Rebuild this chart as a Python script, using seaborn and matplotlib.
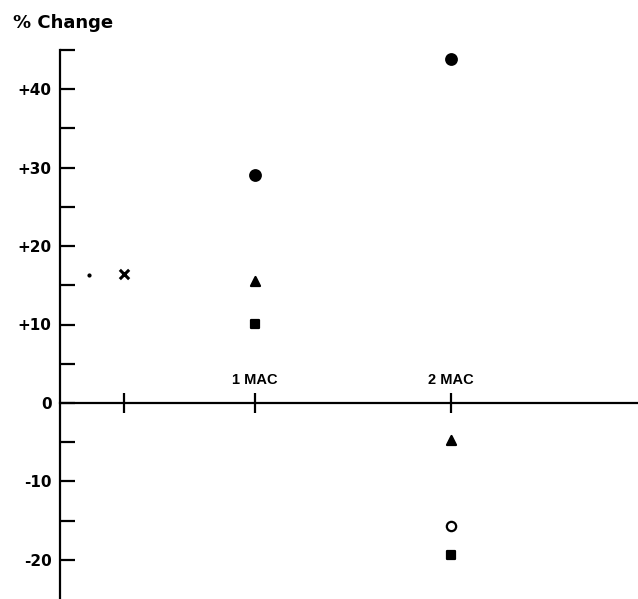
import numpy as np
import pandas as pd
import matplotlib
matplotlib.use('Agg')
import matplotlib.pyplot as plt
import seaborn as sns

# dose positions (in MAC) and % change values
dose_x = [0.33]
change_x = [16.5]

dose_dot = [0.15]
change_dot = [16.3]

dose_filled_circle = [1, 2]
change_filled_circle = [29.0, 43.9]

dose_triangle = [1, 2]
change_triangle = [15.6, -4.7]

dose_square = [1, 2]
change_square = [10.1, -19.4]

dose_open_circle = [2]
change_open_circle = [-15.7]

x_ticks = [0.33, 1, 2]
x_labels = ['', '1 MAC', '2 MAC']
y_major = [-20, -10, 0, 10, 20, 30, 40]
y_labels = ['-20', '-10', '0', '+10', '+20', '+30', '+40']
y_minor = [-15, -5, 5, 15, 25, 35, 45]

sns.set_style('white')
plt.rcParams['font.family'] = ['DejaVu Sans']
plt.rcParams['font.weight'] = 'bold'
plt.rcParams['text.color'] = 'black'
plt.rcParams['xtick.color'] = 'black'
plt.rcParams['ytick.color'] = 'black'
plt.rcParams['axes.labelcolor'] = 'black'

fig = plt.figure(figsize=(6.38, 5.99), dpi=100)
ax = fig.add_axes([60 / 638, 0, 1 - 60 / 638, (599 - 50) / 599])

groups = [
    (dose_x, change_x, 'x', 45, 'black', 'black'),
    (dose_dot, change_dot, 'o', 2, 'black', 'black'),
    (dose_filled_circle, change_filled_circle, 'o', 58, 'black', 'black'),
    (dose_triangle, change_triangle, '^', 42, 'black', 'black'),
    (dose_square, change_square, 's', 34, 'black', 'black'),
    (dose_open_circle, change_open_circle, 'o', 45, 'white', 'black'),
]
for xs, ys, mk, sz, fc, ec in groups:
    df = pd.DataFrame({'dose': xs, 'change': ys})
    sns.scatterplot(data=df, x='dose', y='change', marker=mk, s=sz,
                    color=fc, edgecolor=ec, linewidth=1.6 if mk != 'x' else 2.2,
                    ax=ax, zorder=3)

ax.set_xlim(0, 2.96)
ax.set_ylim(-25, 45)

for s in ['top', 'right']:
    ax.spines[s].set_visible(False)
ax.spines['bottom'].set_position(('data', 0))
ax.spines['left'].set_linewidth(1.6)
ax.spines['bottom'].set_linewidth(1.6)
ax.spines['left'].set_color('black')
ax.spines['bottom'].set_color('black')

ax.set_yticks(y_major)
ax.set_yticklabels(y_labels, fontsize=11, fontweight='bold', color='black')
ax.set_yticks(y_minor, minor=True)
ax.tick_params(axis='y', which='both', direction='in', length=11, width=1.6,
               left=True, pad=6, color='black', labelcolor='black')

ax.set_xticks(x_ticks)
ax.set_xticklabels([])
ax.tick_params(axis='x', which='both', direction='inout', length=14, width=1.6,
               bottom=True, labelbottom=False, color='black')
for xv, lab in zip(x_ticks, x_labels):
    if lab:
        ax.text(xv, 2.0, lab, ha='center', va='bottom', fontsize=10.5,
                fontweight='bold', family='Liberation Sans', color='black')

ax.set_xlabel('')
ax.set_ylabel('')
ax.grid(False)

fig.text(13 / 638, 1 - 23 / 599, '% Change', ha='left', va='center', fontsize=13,
         fontweight='bold', color='black')

fig.savefig('out.png', dpi=100)
